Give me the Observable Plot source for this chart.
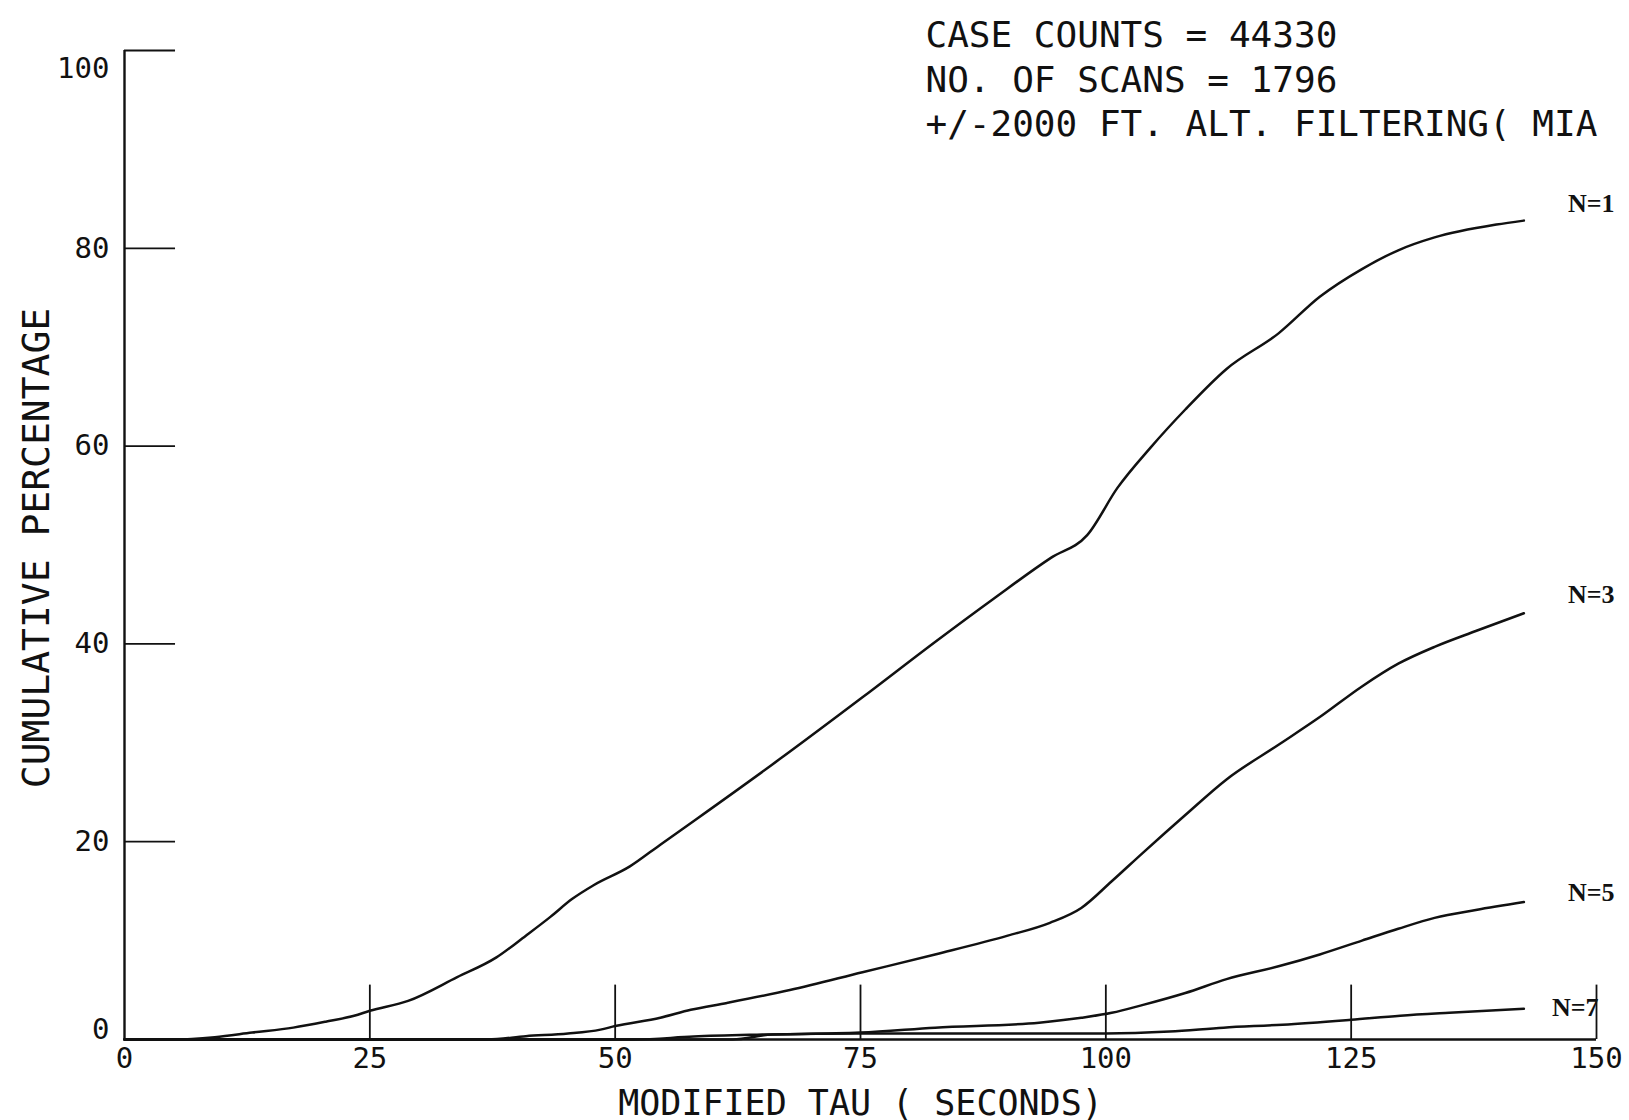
<!DOCTYPE html>
<html>
<head>
<meta charset="utf-8">
<script src="https://cdn.jsdelivr.net/npm/d3@7"></script>
<script src="https://cdn.jsdelivr.net/npm/@observablehq/plot@0.6"></script>
<style>
  body { margin: 0; background: #fff; }
  #chart svg { display: block; }
</style>
</head>
<body>
<div id="chart"></div>
<script>
// ---- Data ----
const xTicks = [0, 25, 50, 75, 100, 125, 150];
const yTicks = [0, 20, 40, 60, 80, 100];

const seriesNames = ["N=1", "N=3", "N=5", "N=7"];

const tau1 = [0, 5.2, 9.2, 13, 17.2, 20.5, 23.4, 25, 28.9, 33.9, 37.9, 40.9, 43.4, 45.6, 47.8, 51.5, 54.6, 58.3, 66.7, 75.2, 82.6, 88.6, 94.4, 98.1, 101.2, 104.6, 108.1, 112.3, 117.6, 121.8, 126.1, 129.8, 133.5, 139.8, 142.6];
const pct1 = [0, 0, 0.24, 0.7, 1.2, 1.8, 2.4, 2.9, 3.9, 6.3, 8.3, 10.5, 12.4, 14.2, 15.6, 17.5, 19.7, 22.3, 28.3, 34.6, 40.2, 44.6, 48.7, 51, 55.8, 59.9, 63.7, 67.8, 71.4, 75.1, 77.9, 79.8, 81.1, 82.4, 82.8];

const tau3 = [0, 37, 40.9, 45.2, 48.5, 50, 54.6, 57.7, 61.4, 67.8, 75.2, 82.6, 90, 94.3, 97.5, 100.6, 103.8, 108.1, 112.3, 117.6, 121.8, 126.1, 129.8, 133.5, 137.7, 142.6];
const pct3 = [0, 0, 0.34, 0.6, 1.0, 1.36, 2.2, 3.0, 3.7, 5, 6.8, 8.6, 10.5, 11.8, 13.3, 16, 18.9, 22.7, 26.3, 29.8, 32.6, 35.7, 38, 39.7, 41.3, 43.1];

const tau5 = [0, 52, 58, 65, 75, 82.6, 93.2, 97.5, 100.6, 103.8, 108.1, 112.3, 117.6, 121.8, 126.1, 129.8, 133.5, 137.7, 142.6];
const pct5 = [0, 0, 0.3, 0.5, 0.7, 1.2, 1.7, 2.2, 2.7, 3.5, 4.7, 6.1, 7.4, 8.6, 10, 11.2, 12.3, 13.1, 13.9];

const tau7 = [0, 62, 66, 75, 85, 95, 100, 106.5, 112, 118, 125, 130, 135, 142.6];
const pct7 = [0, 0, 0.5, 0.6, 0.6, 0.6, 0.6, 0.8, 1.2, 1.5, 2.0, 2.4, 2.7, 3.1];

const annotationLines = [
  "CASE COUNTS = 44330",
  "NO. OF SCANS = 1796",
  "+/-2000 FT. ALT. FILTERING( MIA"
];
const xLabel = "MODIFIED TAU ( SECONDS)";
const yLabel = "CUMULATIVE PERCENTAGE";

// ---- Build table ----
const taus = [tau1, tau3, tau5, tau7];
const pcts = [pct1, pct3, pct5, pct7];
const rows = seriesNames.flatMap((n, k) => taus[k].map((t, i) => ({n, tau: t, pct: pcts[k][i]})));
const lastPoints = seriesNames.map((n, k) => ({n, tau: taus[k][taus[k].length - 1], pct: pcts[k][pcts[k].length - 1]}));

// label offsets (pixels) relative to each curve's end
const labelOffset = {"N=1": [44, -17], "N=3": [44, -19], "N=5": [44, -9], "N=7": [28, -1]};

const PLOTTER = "'DejaVu Sans Mono', 'Liberation Mono', monospace";
const INK = "#111";
const xMin = d3.min(xTicks), xMax = d3.max(xTicks);
const yMin = d3.min(yTicks), yMax = d3.max(yTicks);
const yTickLen = 5.2;  // in x data units (inward tick length)
const xTickLen = 5.5;  // in y data units

const marks = [
  // axes lines
  Plot.ruleY([yMin], {x1: xMin, x2: xMax, stroke: INK, strokeWidth: 2.4}),
  Plot.ruleX([xMin], {y1: yMin, y2: yMax, stroke: INK, strokeWidth: 2.4}),
  // inward ticks
  Plot.ruleY(yTicks.filter(d => d > yMin), {y: d => d, x1: xMin, x2: xMin + yTickLen, stroke: INK, strokeWidth: 1.8}),
  Plot.ruleX(xTicks.filter(d => d > xMin), {x: d => d, y1: yMin, y2: yMin + xTickLen, stroke: INK, strokeWidth: 1.8}),
  // tick labels
  Plot.axisX({ticks: xTicks, tickSize: 0, tickPadding: 8, label: null, fontSize: 29, fill: INK}),
  Plot.axisY({ticks: yTicks.filter(d => d > yMin && d < yMax), tickSize: 0, tickPadding: 15, label: null, fontSize: 29, fill: INK}),
  Plot.axisY({ticks: [yMax], tickSize: 0, tickPadding: 15, label: null, fontSize: 29, dy: 18, fill: INK}),
  Plot.axisY({ticks: [yMin], tickSize: 0, tickPadding: 15, label: null, fontSize: 29, dy: -10, fill: INK}),
  // curves
  Plot.line(rows, {x: "tau", y: "pct", z: "n", stroke: INK, strokeWidth: 2.5, curve: "monotone-x"}),
  // axis titles
  Plot.text([xLabel], {text: d => d, frameAnchor: "bottom", dy: 64, textAnchor: "middle", lineAnchor: "middle", fontSize: 35, fill: INK}),
  Plot.text([yLabel], {text: d => d, frameAnchor: "left", dx: -88, dy: 3, rotate: -90, textAnchor: "middle", lineAnchor: "middle", fontSize: 38, fill: INK}),
  // annotation
  Plot.text([annotationLines.join("\n")], {text: d => d, frameAnchor: "top-left", dx: 801, dy: -35, textAnchor: "start", lineAnchor: "top", lineHeight: 1.24, fontSize: 36, fill: INK})
];

// curve labels
for (const p of lastPoints) {
  const [dx, dy] = labelOffset[p.n];
  marks.push(Plot.text([p], {x: "tau", y: "pct", text: "n", dx, dy, textAnchor: "start", lineAnchor: "middle",
    fontSize: 26, fontWeight: "bold", fontFamily: "'Liberation Serif', 'DejaVu Serif', serif", fill: INK}));
}

const chart = Plot.plot({
  width: 1629,
  height: 1120,
  marginLeft: 124,
  marginRight: 33,
  marginTop: 50,
  marginBottom: 81,
  x: {domain: [xMin, xMax]},
  y: {domain: [yMin, yMax]},
  style: {fontFamily: PLOTTER, background: "#fff", color: INK, overflow: "visible"},
  marks
});
document.getElementById("chart").appendChild(chart);
</script>
</body>
</html>
